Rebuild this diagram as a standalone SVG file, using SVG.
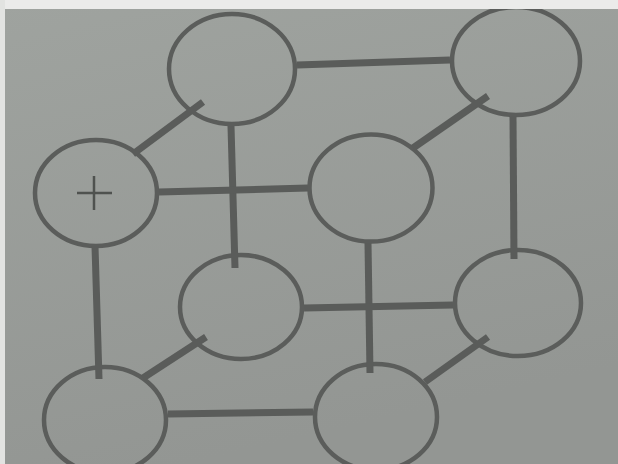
<svg xmlns="http://www.w3.org/2000/svg" width="618" height="464" viewBox="0 0 618 464">
  <defs>
    <linearGradient id="bg" x1="0" y1="0" x2="0.3" y2="1">
      <stop offset="0" stop-color="#9fa39f"/>
      <stop offset="1" stop-color="#939693"/>
    </linearGradient>
    <style>
      .node { fill: none; stroke: #5b5d5b; stroke-width: 4.5; }
      .edge { stroke: #5a5c5a; stroke-width: 7; stroke-linecap: butt; }
      .plus { stroke: #4f524f; stroke-width: 2.5; }
    </style>
  </defs>
  <rect x="0" y="0" width="618" height="464" fill="url(#bg)"/>
  <g id="nodes">
    <g id="n1"><ellipse class="node" cx="232" cy="69" rx="63" ry="55"/></g>
    <g id="n2"><ellipse class="node" cx="516" cy="61" rx="64" ry="54"/></g>
    <g id="n3"><ellipse class="node" cx="96" cy="193" rx="61" ry="53"/>
      <line class="plus" x1="77" y1="193" x2="112" y2="193"/>
      <line class="plus" x1="94" y1="176" x2="94" y2="210"/>
    </g>
    <g id="n4"><ellipse class="node" cx="371" cy="188" rx="61.5" ry="53.5"/></g>
    <g id="n5"><ellipse class="node" cx="241" cy="307" rx="61" ry="52"/></g>
    <g id="n6"><ellipse class="node" cx="518" cy="303" rx="63" ry="53"/></g>
    <g id="n7"><ellipse class="node" cx="105" cy="420" rx="61" ry="53"/></g>
    <g id="n8"><ellipse class="node" cx="376" cy="417" rx="61" ry="53"/></g>
  </g>
  <g id="connectors">
    <line class="edge" x1="297" y1="65" x2="450" y2="60"/>
    <line class="edge" x1="133" y1="154" x2="203" y2="102"/>
    <line class="edge" x1="231" y1="126" x2="235" y2="268"/>
    <line class="edge" x1="413" y1="148" x2="488" y2="96"/>
    <line class="edge" x1="513" y1="116" x2="514" y2="259"/>
    <line class="edge" x1="159" y1="192" x2="308" y2="188"/>
    <line class="edge" x1="95" y1="246" x2="99" y2="379"/>
    <line class="edge" x1="368" y1="243" x2="370" y2="373"/>
    <line class="edge" x1="304" y1="308" x2="453" y2="305"/>
    <line class="edge" x1="143" y1="378" x2="206" y2="337"/>
    <line class="edge" x1="425" y1="382" x2="488" y2="337"/>
    <line class="edge" x1="168" y1="414" x2="313" y2="412"/>
  </g>
  <rect x="0" y="0" width="618" height="9" fill="#ebebea"/>
  <rect x="0" y="0" width="5" height="464" fill="#e2e3e1"/>
</svg>
